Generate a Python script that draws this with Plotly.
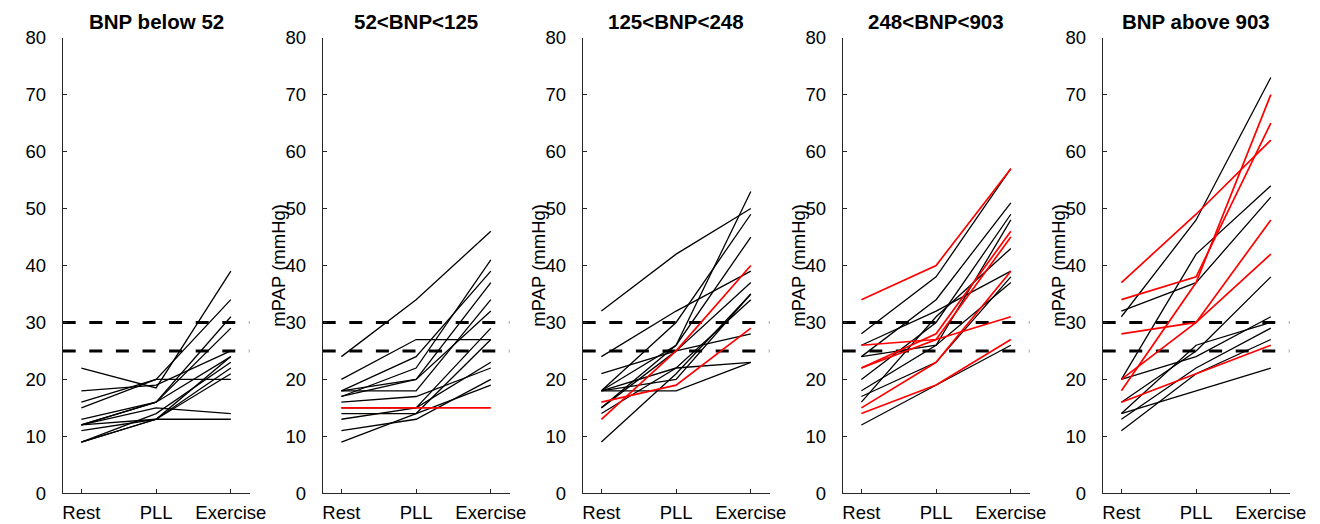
import plotly.graph_objects as go

categories = ["Rest", "PLL", "Exercise"]
titles = ["BNP below 52", "52<BNP<125", "125<BNP<248", "248<BNP<903", "BNP above 903"]
y_ticks = [0, 10, 20, 30, 40, 50, 60, 70, 80]
thresholds = [25, 30]

# each panel: rest, pll, exercise values per patient, and red flag
p1_rest = [22, 18, 16, 15, 13, 12, 12, 12, 11, 9, 9, 9, 12]
p1_pll = [18.5, 19, 20, 20, 16, 16, 15, 13, 13, 13, 14, 13, 16]
p1_ex = [39, 25, 34, 20, 31, 29, 14, 13, 24, 22, 23, 21, 24]
p1_red = [0] * 13

p2_rest = [24, 20, 18, 17, 18, 17, 18, 16, 15, 15, 14, 13, 11, 9]
p2_pll = [34, 27, 24, 22, 20, 20, 18, 17, 15, 15, 14, 15, 13, 14]
p2_ex = [46, 27, 39, 41, 37, 32, 34, 22, 15, 29, 27, 23, 20, 19]
p2_red = [0, 0, 0, 0, 0, 0, 0, 0, 1, 0, 0, 0, 0, 0]

p3_rest = [32, 24, 18, 18, 15, 13, 16, 21, 18, 18, 18, 14, 9, 15]
p3_pll = [42, 32, 26, 30, 26, 25, 19, 25, 20, 18, 22, 22, 21, 25]
p3_ex = [50, 39, 53, 49, 45, 40, 29, 37, 35, 23, 23, 34, 35, 28]
p3_red = [0, 0, 0, 0, 0, 1, 1, 0, 0, 0, 0, 0, 0, 0]

p4_rest = [34, 28, 24, 26, 26, 22, 22, 20, 18, 16, 17, 15, 14, 12, 24]
p4_pll = [40, 38, 34, 32, 27, 28, 27, 30, 26, 31, 23, 23, 19, 19, 26]
p4_ex = [57, 57, 51, 39, 31, 46, 45, 49, 48, 43, 38, 39, 27, 26, 37]
p4_red = [1, 0, 0, 0, 1, 1, 1, 0, 0, 0, 0, 1, 1, 0, 0]

p5_rest = [37, 34, 18, 28, 20, 16, 31, 32, 20, 16, 20, 14, 13, 11, 14]
p5_pll = [49, 38, 37, 30, 30, 21, 48, 37, 42, 25, 24, 26, 22, 21, 18]
p5_ex = [62, 65, 70, 48, 42, 26, 73, 52, 54, 38, 31, 30, 29, 27, 22]
p5_red = [1, 1, 1, 1, 1, 1, 0, 0, 0, 0, 0, 0, 0, 0, 0]

panels = [
    (p1_rest, p1_pll, p1_ex, p1_red),
    (p2_rest, p2_pll, p2_ex, p2_red),
    (p3_rest, p3_pll, p3_ex, p3_red),
    (p4_rest, p4_pll, p4_ex, p4_red),
    (p5_rest, p5_pll, p5_ex, p5_red),
]

W, H = 1320, 524
x_left0 = 62.7
x_step = 260.0
x_width = 186.8
y_top, y_bot = 37.7, 493.3
ydom = [1 - y_bot / H, 1 - y_top / H]
FONT = "Liberation Sans, Arial, Helvetica, sans-serif"

fig = go.Figure()
layout = {}
annotations = []
for i, (rest, pll, ex, red) in enumerate(panels):
    k = "" if i == 0 else str(i + 1)
    xa, ya = "x" + k, "y" + k
    x0 = x_left0 + i * x_step
    xdom = [x0 / W, (x0 + x_width) / W]
    # thresholds
    for t in thresholds:
        fig.add_trace(go.Scatter(
            x=[0.75, 3.25], y=[t, t], mode="lines", xaxis=xa, yaxis=ya,
            line=dict(color="black", width=3, dash="13px,13.6px"),
            showlegend=False, hoverinfo="skip"))
    order = [j for j in range(len(rest)) if not red[j]] + [j for j in range(len(rest)) if red[j]]
    for j in order:
        isred = red[j] == 1
        fig.add_trace(go.Scatter(
            x=[1, 2, 3], y=[rest[j], pll[j], ex[j]], mode="lines",
            xaxis=xa, yaxis=ya,
            line=dict(color="#ff0000" if isred else "black", width=1.7 if isred else 1.3),
            showlegend=False))
    layout["xaxis" + k] = dict(
        domain=xdom, anchor=ya, range=[0.75, 3.25], automargin=False,
        tickmode="array", tickvals=[1, 2, 3], ticktext=categories,
        ticks="inside", ticklen=4, tickwidth=1, tickcolor="#262626",
        showline=True, linecolor="#262626", linewidth=1,
        showgrid=False, zeroline=False,
        tickfont=dict(family=FONT, size=18.5, color="black"),
        ticklabelstandoff=2)
    layout["yaxis" + k] = dict(
        domain=ydom, anchor=xa, range=[0, 80], automargin=False,
        tickmode="array", tickvals=y_ticks,
        ticks="inside", ticklen=4, tickwidth=1, tickcolor="#262626",
        showline=True, linecolor="#262626", linewidth=1,
        showgrid=False, zeroline=False,
        tickfont=dict(family=FONT, size=18.5, color="black"),
        ticklabelstandoff=12)
    annotations.append(dict(
        text="<b>" + titles[i] + "</b>", xref="paper", yref="paper",
        x=(x0 + x_width / 2) / W, y=1 - 21 / H, showarrow=False,
        font=dict(family=FONT, size=20.5, color="black"),
        xanchor="center", yanchor="middle"))
    if i > 0:
        annotations.append(dict(
            text="mPAP (mmHg)", xref="paper", yref="paper",
            x=(x0 - 45) / W, y=1 - 265 / H, showarrow=False, textangle=-90,
            font=dict(family=FONT, size=18.5, color="black"),
            xanchor="center", yanchor="middle"))

fig.update_layout(
    width=W, height=H, margin=dict(l=0, r=0, t=0, b=0),
    plot_bgcolor="white", paper_bgcolor="white",
    annotations=annotations, **layout)

fig.write_html("out.html")
